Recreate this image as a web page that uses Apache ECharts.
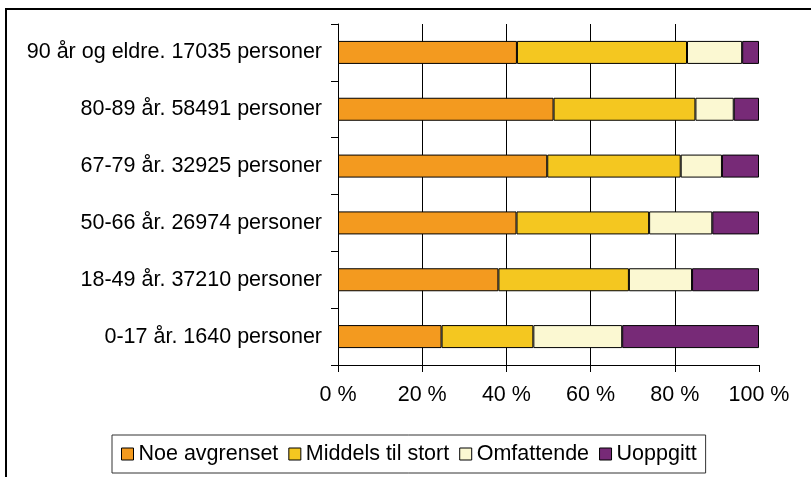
<!DOCTYPE html>
<html>
<head>
<meta charset="utf-8">
<script src="https://cdn.jsdelivr.net/npm/echarts@6/dist/echarts.min.js"></script>
<style>
  html, body { margin: 0; padding: 0; background: #fff; }
  #chart { width: 811px; height: 477px; }
</style>
</head>
<body>
<div id="chart"></div>
<script>
// kategorier, ovenfra og ned
var categories = [
  '90 år og eldre. 17035 personer',
  '80-89 år. 58491 personer',
  '67-79 år. 32925 personer',
  '50-66 år. 26974 personer',
  '18-49 år. 37210 personer',
  '0-17 år. 1640 personer'
];
var seriesNames = ['Noe avgrenset', 'Middels til stort', 'Omfattende', 'Uoppgitt'];
// prosent
var noeAvgrenset = [42.5, 51.2, 49.7, 42.4, 38.1, 24.6];
var middelsTilStort = [40.4, 33.7, 31.7, 31.5, 31.0, 21.8];
var omfattende = [13.1, 9.1, 9.8, 15.0, 15.0, 21.1];
var uoppgitt = [4.0, 6.0, 8.8, 11.1, 15.9, 32.5];
var xTicks = [0, 20, 40, 60, 80, 100];

var colors = ['#F39A1F', '#F4C720', '#FBF8D2', '#772A77'];
var values = [noeAvgrenset, middelsTilStort, omfattende, uoppgitt];
var font = 'Liberation Sans, Arial, sans-serif';
var fs = 21.5;

var myChart = echarts.init(document.getElementById('chart'));

var series = seriesNames.map(function (name, i) {
  return {
    name: name,
    type: 'bar',
    stack: 'total',
    barWidth: 23,
    data: values[i],
    itemStyle: { color: colors[i], borderColor: '#000', borderWidth: 1 }
  };
});

var option = {
  animation: false,
  backgroundColor: '#fff',
  textStyle: { fontFamily: font },
  // ytre ramme
  graphic: [{
    type: 'rect',
    shape: { x: 6, y: 9, width: 900, height: 600 },
    style: { fill: 'none', stroke: '#000', lineWidth: 2 },
    silent: true
  }],
  grid: { left: 338, right: 52, top: 24, bottom: 112 },
  legend: {
    left: 112,
    top: 435,
    orient: 'horizontal',
    data: seriesNames,
    icon: 'rect',
    itemWidth: 12,
    itemHeight: 12,
    itemGap: 10,
    padding: [8, 9, 8, 9],
    borderColor: '#333',
    borderWidth: 1,
    itemStyle: { borderColor: '#000', borderWidth: 1 },
    textStyle: { fontSize: fs, color: '#000', fontFamily: font }
  },
  xAxis: {
    type: 'value',
    min: xTicks[0],
    max: xTicks[xTicks.length - 1],
    interval: 20,
    axisLine: { show: true, lineStyle: { color: '#000', width: 1 } },
    axisTick: { show: true, length: 7, lineStyle: { color: '#000' } },
    axisLabel: {
      margin: 19,
      fontSize: fs,
      color: '#000',
      fontFamily: font,
      formatter: function (v) { return v + ' %'; }
    },
    splitLine: { show: true, showMaxLine: false, lineStyle: { color: '#000', width: 1 } }
  },
  yAxis: {
    type: 'category',
    inverse: true,
    data: categories,
    axisLine: { show: true, lineStyle: { color: '#000', width: 1 } },
    axisTick: { show: true, length: 7, lineStyle: { color: '#000' } },
    axisLabel: { margin: 16, fontSize: fs, color: '#000', fontFamily: font }
  },
  series: series
};

myChart.setOption(option);
</script>
</body>
</html>
